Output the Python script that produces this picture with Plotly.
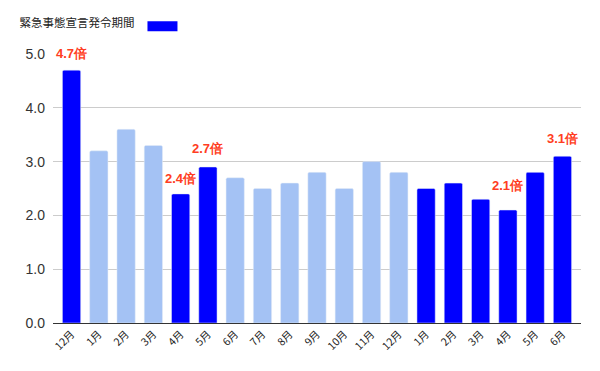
import plotly.graph_objects as go

months = ["12月", "1月", "2月", "3月", "4月", "5月", "6月", "7月", "8月", "9月",
          "10月", "11月", "12月", "1月", "2月", "3月", "4月", "5月", "6月"]
values = [4.7, 3.2, 3.6, 3.3, 2.4, 2.9, 2.7, 2.5, 2.6, 2.8,
          2.5, 3.0, 2.8, 2.5, 2.6, 2.3, 2.1, 2.8, 3.1]
emergency = [True, False, False, False, True, True, False, False, False, False,
             False, False, False, True, True, True, True, True, True]
label_index = [0, 4, 5, 16, 18]
label_text = ["4.7倍", "2.4倍", "2.7倍", "2.1倍", "3.1倍"]
label_shift = [7, 6, 9, 15, 8]

legend_name = "緊急事態宣言発令期間"
dark = "#0000ff"
light = "#a4c2f4"
red = "#ff3d22"

xs = list(range(len(months)))
dark_y = [v if e else None for v, e in zip(values, emergency)]
light_y = [None if e else v for v, e in zip(values, emergency)]

fig = go.Figure()
fig.add_trace(go.Bar(x=xs, y=dark_y, marker_color=dark, showlegend=False,
                     width=0.67, legendgroup="em"))
fig.add_trace(go.Bar(x=xs, y=light_y, marker_color=light, showlegend=False,
                     width=0.67))
# legend key for the emergency period (wide rectangular swatch)
fig.add_trace(go.Scatter(x=[None], y=[None], mode="lines", name=" ",
                         line=dict(color=dark, width=10), legendgroup="em",
                         showlegend=True, hoverinfo="skip"))

for i, t, s in zip(label_index, label_text, label_shift):
    fig.add_annotation(x=xs[i], y=values[i], text=f"<b>{t}</b>", showarrow=False,
                       yanchor="bottom", yshift=s,
                       font=dict(color=red, size=13, family="Liberation Sans, Arial"))

fig.update_layout(
    width=592, height=363,
    margin=dict(l=45, r=19, t=46, b=48, autoexpand=False),
    plot_bgcolor="white", paper_bgcolor="white",
    barmode="overlay", barcornerradius=1.5,
    font=dict(family="Liberation Sans, Arial, Noto Sans CJK JP", color="#222"),
    legend=dict(
        title=dict(text=legend_name, side="left",
                   font=dict(size=11.5, color="#222", family="Noto Sans CJK JP")),
        xref="container", yref="container", x=0.016, y=0.99,
        xanchor="left", yanchor="top", orientation="h",
        font=dict(size=1), itemwidth=30,
        bgcolor="rgba(0,0,0,0)",
    ),
    xaxis=dict(
        range=[-0.68, 18.68], tickmode="array", tickvals=xs, ticktext=months,
        tickangle=-45, tickfont=dict(size=10.5, color="#222", family="Noto Sans CJK JP"),
        showgrid=False, showline=True, linecolor="#333", linewidth=1, ticks="",
        automargin=False,
    ),
    yaxis=dict(
        range=[0, 5], tickvals=[0, 1, 2, 3, 4, 5],
        ticktext=["0.0", "1.0", "2.0", "3.0", "4.0", "5.0"],
        tickfont=dict(size=14, color="#333"),
        showgrid=True, gridcolor="#cccccc", gridwidth=1, zeroline=False,
        ticks="", ticklabelstandoff=7, automargin=False,
    ),
)

fig.write_html("out.html")
